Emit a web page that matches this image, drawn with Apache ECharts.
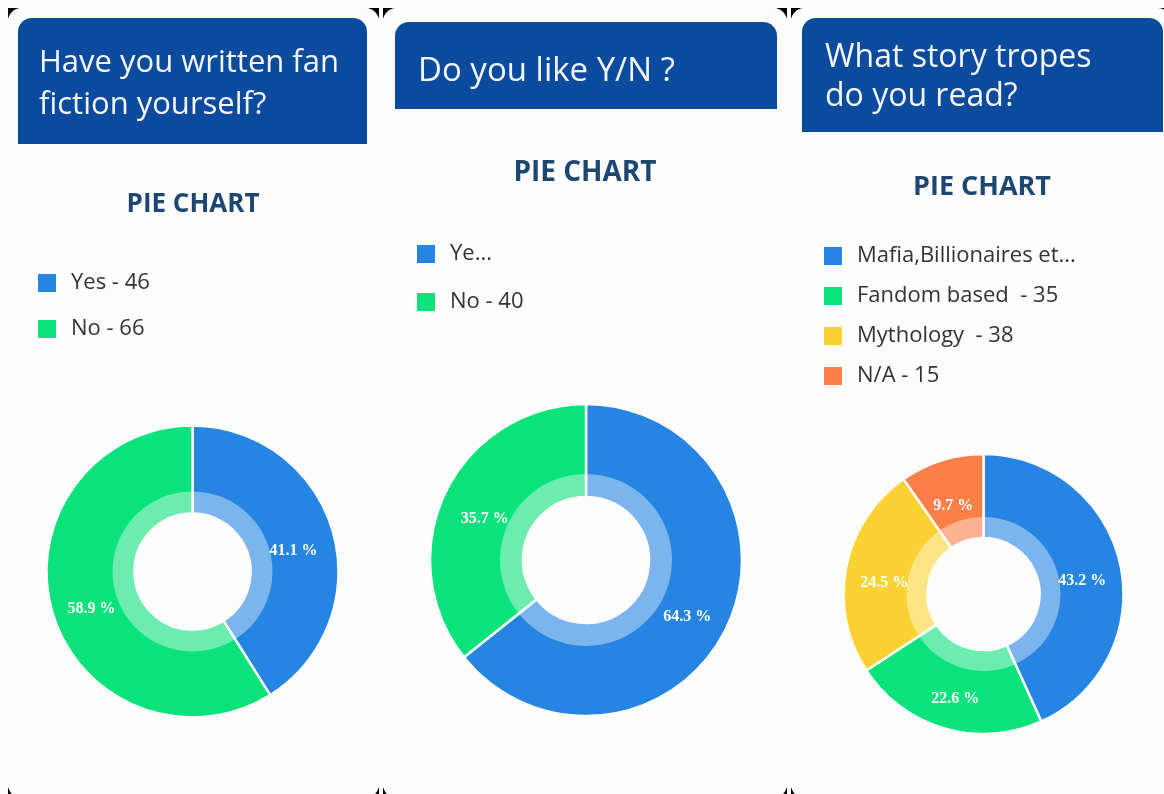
<!DOCTYPE html>
<html>
<head>
<meta charset="utf-8">
<script src="https://cdn.jsdelivr.net/npm/echarts@6/dist/echarts.min.js"></script>
<style>
  body { margin: 0; background: #fdfdfd; width: 1164px; height: 794px; overflow: hidden; position: relative; }
  .panel { position: absolute; top: 8px; height: 790px; background: #000; }
  .card { width: 100%; height: 100%; background: #fdfdfd; border-radius: 14px; overflow: hidden; }
</style>
</head>
<body>
<div class="panel" style="left:8px;width:371px"><div class="card" id="chart_1"></div></div>
<div class="panel" style="left:383px;width:404px"><div class="card" id="chart_2"></div></div>
<div class="panel" style="left:791px;width:380px"><div class="card" id="chart_3"></div></div>
<script>
// chart 1 - Have you written fan fiction yourself?
var names_1 = ['Yes', 'No'];
var values_1 = [46, 66];
var legend_1 = ['Yes - 46', 'No - 66'];
var colors_1 = ['#2684e2', '#0ae27b'];

// chart 2 - Do you like Y/N ?
var names_2 = ['Yes', 'No'];
var values_2 = [72, 40];
var legend_2 = ['Ye...', 'No - 40'];
var colors_2 = ['#2684e2', '#0ae27b'];

// chart 3 - What story tropes do you read?
var names_3 = ['Mafia,Billionaires etc', 'Fandom based', 'Mythology', 'N/A'];
var values_3 = [67, 35, 38, 15];
var legend_3 = ['Mafia,Billionaires et...', 'Fandom based  - 35', 'Mythology  - 38', 'N/A - 15'];
var colors_3 = ['#2684e2', '#0ae27b', '#fcd233', '#fc7f49'];

var HEAD_BLUE = '#0b4b9e';
var SUB_BLUE = '#1d4673';
var FONT = '"Open Sans", Lato, sans-serif';

function makeChart(id, p) {
    var chart = echarts.init(document.getElementById(id), null, {renderer: 'canvas'});
    var data = p.names.map(function (n, i) {
        return {name: n, value: p.values[i], itemStyle: {color: p.colors[i]}};
    });
    var ring = p.names.map(function (n, i) {
        return {name: n, value: p.values[i]};
    });
    chart.setOption({
        backgroundColor: '#fdfdfd',
        animation: false,
        graphic: [{
            type: 'rect',
            shape: {x: p.head[0], y: p.head[1], width: p.head[2], height: p.head[3], r: [14, 14, 0, 0]},
            style: {fill: HEAD_BLUE},
            z: 0
        }],
        title: [{
            text: p.question,
            left: p.qPos[0],
            top: p.qPos[1],
            padding: 0,
            textStyle: {
                color: '#f4f6fb',
                fontFamily: FONT,
                fontWeight: 'normal',
                fontSize: p.qSize,
                lineHeight: p.qLine
            },
            z: 5
        }, {
            text: 'PIE CHART',
            left: p.subX,
            top: p.subY,
            padding: 0,
            textAlign: 'center',
            textStyle: {
                color: SUB_BLUE,
                fontFamily: FONT,
                fontWeight: 'bold',
                fontSize: p.subSize
            }
        }],
        legend: {
            orient: 'vertical',
            left: p.legPos[0],
            top: p.legPos[1],
            padding: 0,
            icon: 'rect',
            itemWidth: 20,
            itemHeight: 20,
            itemGap: p.legGap,
            selectedMode: false,
            data: p.names,
            formatter: function (name) {
                return p.legend[p.names.indexOf(name)];
            },
            textStyle: {
                color: '#333',
                fontFamily: FONT,
                fontSize: p.legSize,
                lineHeight: 20,
                padding: [0, 0, 0, 9]
            }
        },
        series: [{
            type: 'pie',
            center: p.center,
            radius: [p.radius[0], p.radius[2]],
            startAngle: 90,
            clockwise: true,
            percentPrecision: 1,
            avoidLabelOverlap: false,
            silent: true,
            itemStyle: {borderColor: '#fdfdfd', borderWidth: 2.5},
            label: {
                show: true,
                position: 'inside',
                formatter: '{d} %',
                offset: [0, 8],
                color: '#fff',
                fontFamily: '"Liberation Serif", serif',
                fontWeight: 'bold',
                fontSize: 16
            },
            labelLine: {show: false},
            data: data
        }, {
            type: 'pie',
            center: p.center,
            radius: [p.radius[0], p.radius[1]],
            startAngle: 90,
            clockwise: true,
            silent: true,
            z: 3,
            itemStyle: {color: 'rgba(255,255,255,0.4)', borderWidth: 0},
            label: {show: false},
            labelLine: {show: false},
            data: ring
        }]
    });
}

makeChart('chart_1', {
    names: names_1, values: values_1, legend: legend_1, colors: colors_1,
    head: [10, 10, 349, 126],
    question: 'Have you written fan\nfiction yourself?',
    qPos: [31, 34], qSize: 31, qLine: 42,
    subX: 185, subY: 184, subSize: 26,
    legPos: [28, 264], legGap: 24, legSize: 22,
    center: [184.5, 563.5], radius: [58, 80, 146]
});

makeChart('chart_2', {
    names: names_2, values: values_2, legend: legend_2, colors: colors_2,
    head: [12, 14, 382, 87],
    question: 'Do you like Y/N ?',
    qPos: [35, 43], qSize: 33, qLine: 42,
    subX: 202, subY: 151, subSize: 28,
    legPos: [32, 235], legGap: 26, legSize: 22,
    center: [203, 552], radius: [63, 86, 156]
});

makeChart('chart_3', {
    names: names_3, values: values_3, legend: legend_3, colors: colors_3,
    head: [11, 10, 361, 114],
    question: 'What story tropes\ndo you read?',
    qPos: [34, 30], qSize: 32, qLine: 39,
    subX: 191, subY: 166, subSize: 27,
    legPos: [31, 237], legGap: 18, legSize: 22,
    center: [192.5, 586], radius: [56, 77, 140]
});
</script>
</body>
</html>
